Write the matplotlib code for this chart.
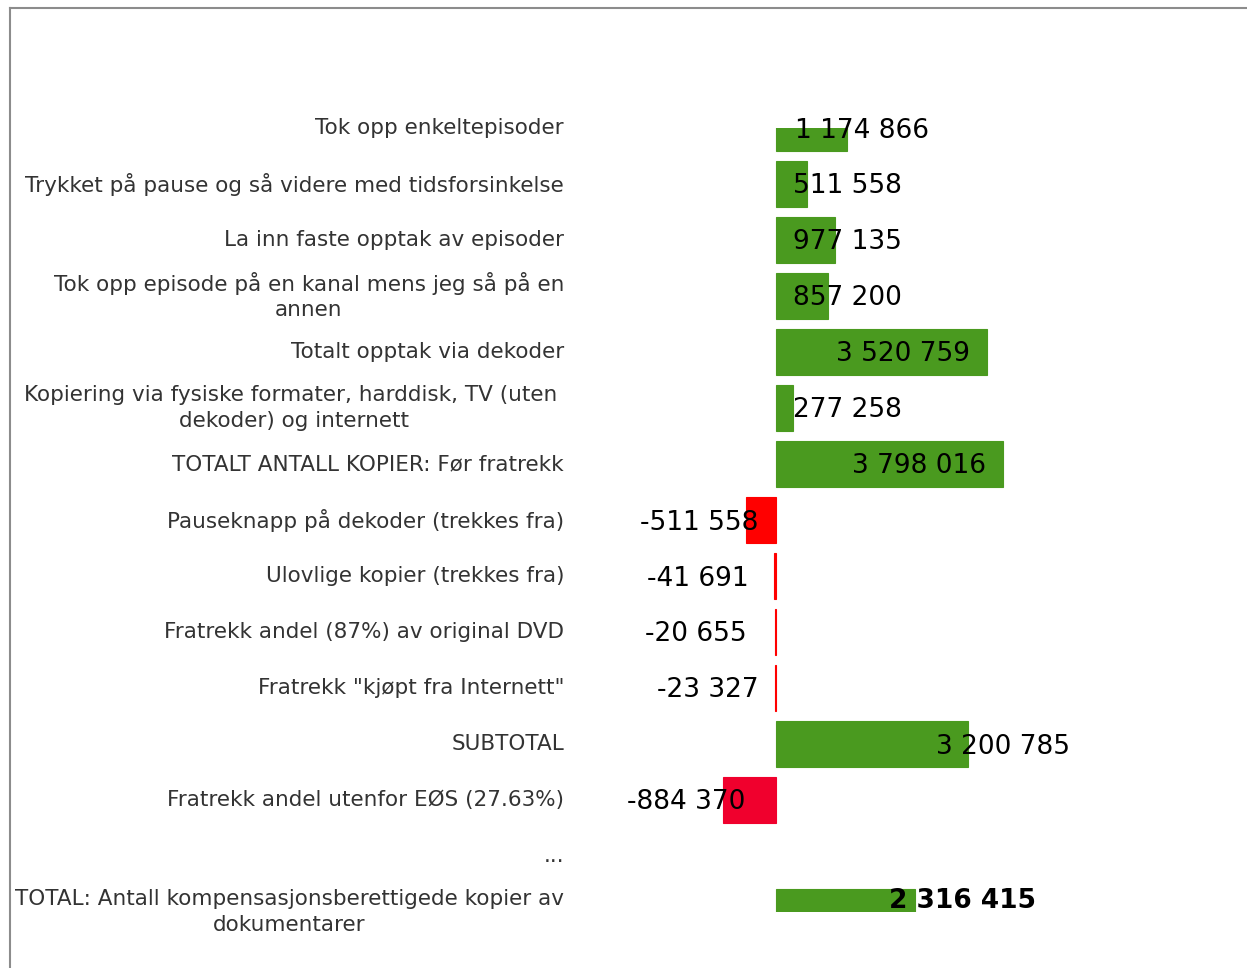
import numpy as np
import matplotlib
matplotlib.use("Agg")
import matplotlib.pyplot as plt
from matplotlib.lines import Line2D
from matplotlib.transforms import offset_copy

# ---------------- data ----------------
categories = [
    "Tok opp enkeltepisoder",
    "Trykket på pause og så videre med tidsforsinkelse",
    "La inn faste opptak av episoder",
    "Tok opp episode på en kanal mens jeg så på en\nannen",
    "Totalt opptak via dekoder",
    "Kopiering via fysiske formater, harddisk, TV (uten \ndekoder) og internett",
    "TOTALT ANTALL KOPIER: Før fratrekk",
    "Pauseknapp på dekoder (trekkes fra)",
    "Ulovlige kopier (trekkes fra)",
    "Fratrekk andel (87%) av original DVD",
    "Fratrekk \"kjøpt fra Internett\"",
    "SUBTOTAL",
    "Fratrekk andel utenfor EØS (27.63%)",
    "...",
    "TOTAL: Antall kompensasjonsberettigede kopier av\ndokumentarer",
]
values = [1174866, 511558, 977135, 857200, 3520759, 277258, 3798016,
          -511558, -41691, -20655, -23327, 3200785, -884370, np.nan, 2316415]
value_labels = ["1 174 866", "511 558", "977 135", "857 200", "3 520 759",
                "277 258", "3 798 016", "-511 558", "-41 691", "-20 655",
                "-23 327", "3 200 785", "-884 370", "", "2 316 415"]

# ---------------- style ----------------
GREEN = "#4A9A1F"
RED = "#FF0000"
CRIMSON = "#F0002D"
bar_colors = [GREEN] * 7 + [RED] * 4 + [GREEN, CRIMSON, GREEN, GREEN]
# label anchor: ('zero'|'end', dx px, ha, dy px (down), bold)
label_style = [
    ("zero", 19, "left", 2.5, False),
    ("zero", 17, "left", 2, False),
    ("zero", 17, "left", 2, False),
    ("zero", 17, "left", 2, False),
    ("end", -17, "right", 2, False),
    ("zero", 17, "left", 2, False),
    ("end", -17, "right", 2, False),
    ("end", 13, "right", 3, False),
    ("end", -25, "right", 3, False),
    ("end", -28, "right", 2, False),
    ("end", -16, "right", 2, False),
    ("end", -32, "left", 3, False),
    ("end", 22, "right", 2, False),
    ("zero", 0, "left", 0, False),
    ("end", -26, "left", -11, True),
]

W, H, DPI = 1247, 968, 100
fig = plt.figure(figsize=(W / DPI, H / DPI), dpi=DPI)
fig.patch.set_facecolor("white")

zero_px = 776.3
px_per_unit = 227.0 / 3798016
ax_left_px, ax_right_px = 600, 1240
ax_top_px, ax_bot_px = 128, 912
ax = fig.add_axes([ax_left_px / W, 1 - ax_bot_px / H,
                   (ax_right_px - ax_left_px) / W, (ax_bot_px - ax_top_px) / H])
ax.set_xlim((ax_left_px - zero_px) / px_per_unit, (ax_right_px - zero_px) / px_per_unit)
n = len(categories)
ax.set_ylim(n - 1, 0)

y = np.arange(n)
vals = np.array(values, dtype=float)
mask = ~np.isnan(vals)
ax.barh(y[mask], vals[mask], height=46 / 56,
        color=[c for c, m in zip(bar_colors, mask) if m],
        edgecolor=[c for c, m in zip(bar_colors, mask) if m],
        linewidth=0.8, zorder=2)

for i, (v, lab) in enumerate(zip(values, value_labels)):
    if not lab:
        continue
    anchor, dx, ha, dy, bold = label_style[i]
    x0 = 0 if anchor == "zero" else v
    tr = offset_copy(ax.transData, fig=fig, x=dx, y=-dy, units="dots")
    ax.text(x0, i, lab, transform=tr, ha=ha, va="center", fontsize=19,
            color="black", fontweight="bold" if bold else "normal",
            family="DejaVu Sans", zorder=3, clip_on=False)

# category labels, right aligned at x = 564 px
label_right_x = (564 - zero_px) / px_per_unit
for i, cat in enumerate(categories):
    ax.text(label_right_x, i, cat, ha="right", va="center", multialignment="center",
            linespacing=1.32, fontsize=15.5, color="#333333", family="DejaVu Sans",
            clip_on=False)

ax.set_yticks([])
ax.set_xticks([])
for s in ax.spines.values():
    s.set_visible(False)
ax.set_facecolor("none")

# outer border (top and left)
fig.add_artist(Line2D([10 / W, 10 / W], [0, 1 - 8 / H], transform=fig.transFigure,
                      color="#8c8c8c", lw=1.5))
fig.add_artist(Line2D([10 / W, 1], [1 - 8 / H, 1 - 8 / H], transform=fig.transFigure,
                      color="#8c8c8c", lw=1.5))

fig.savefig("out.png", dpi=DPI)
